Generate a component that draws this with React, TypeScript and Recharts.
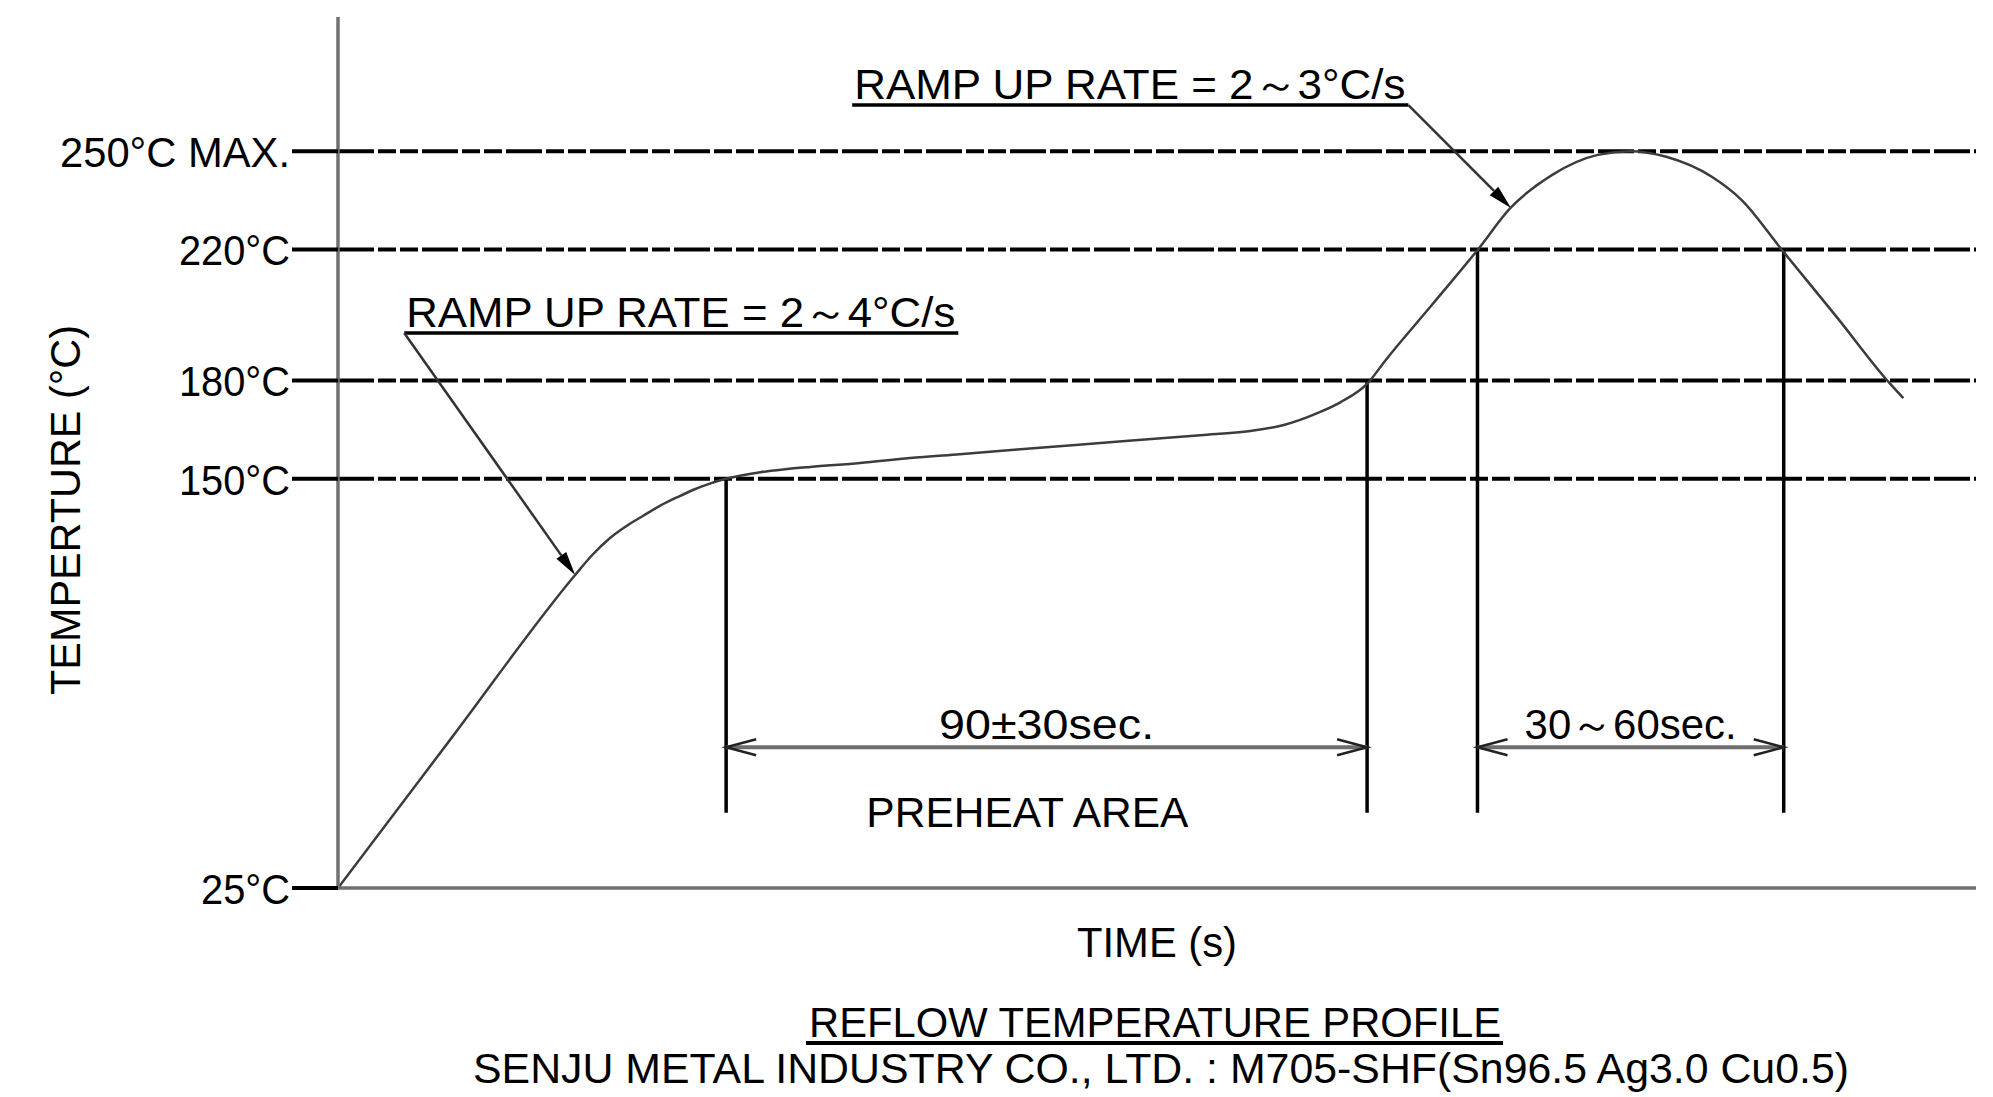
import React from 'react';
import { LineChart, Line, XAxis, YAxis, ReferenceLine, ReferenceDot } from 'recharts';

// reflow profile: time in s, temperature in °C
const timeSec = [0, 16, 33.3, 35.7, 38.2, 40.4, 42.8, 45.2, 47.6, 50.0, 52.2, 54.3, 59.3, 62.8, 66.3, 73.3, 80.3, 87.3, 104, 121.1, 128.1, 132.8, 137.6, 140.8, 144.6, 147.1, 153.5, 160.1, 164.6, 170.5, 176.9, 181.5, 186.5, 192.9, 197.1, 202.7, 210.4, 217.9, 219.8];
const tempC = [25, 71, 120.6, 126.7, 131.9, 135.4, 138.6, 141.7, 144.3, 146.7, 148.5, 149.9, 152.0, 152.9, 153.6, 154.8, 156.3, 157.5, 160.4, 163.3, 164.6, 166.4, 170.1, 173.4, 179.2, 186.2, 202.8, 220.1, 232.6, 242.8, 248.9, 250, 248.3, 242.2, 235.1, 220, 199.5, 179.1, 174.6];

const tempTicks = [25, 150, 180, 220, 250];
const tempTickLabels = ['25°C', '150°C', '180°C', '220°C', '250°C MAX.'];
const guideTemps = [150, 180, 220, 250];

// stage boundaries (vertical markers)
const stageTimes = [54.5, 144.5, 160, 203];
const stageTemps = [150, 180, 220, 220];
const stageFloor = 48;

// dimension arrows
const spanFrom = [54.5, 160];
const spanTo = [144.5, 203];
const spanLabels = ['90±30sec.', '30～60sec.'];
const spanTemp = 68;

// ramp rate callouts
const rampLabels = ['RAMP UP RATE = 2～4°C/s', 'RAMP UP RATE = 2～3°C/s'];
const rampLabelFrom = [9.3, 72.2];
const rampLabelTo = [87.1, 150.3];
const rampLabelTemp = [194.5, 264.1];
const rampTipTime = [33.3, 164.7];
const rampTipTemp = [120.6, 232.7];
const rampLeaderAtEnd = [false, true];

const areaLabel = 'PREHEAT AREA';
const areaTime = 96.8;
const areaTemp = 43.6;

const profile = timeSec.map((t, i) => ({ t, temp: tempC[i] }));

const FONT = "'Liberation Sans', Arial, sans-serif";
const tickLabelWidths = [89, 111, 111, 111, 230];
const spanLabelWidths = [215, 212];

const TempTick = (props: any) => {
  const { x, y, payload } = props;
  const i = tempTicks.indexOf(payload.value);
  return (
    <g>
      <line x1={x - 46} x2={x} y1={y} y2={y} stroke="#000" strokeWidth={4} />
      <text
        x={x - 48}
        y={y + 16}
        textAnchor="end"
        fontFamily={FONT}
        fontSize={42}
        fill="#000"
        textLength={tickLabelWidths[i]}
        lengthAdjust="spacingAndGlyphs"
      >
        {tempTickLabels[i]}
      </text>
    </g>
  );
};

const spanShape = (label: string, width: number) => (p: any) => {
  const { x1, x2, y1 } = p;
  const a = Math.min(x1, x2);
  const b = Math.max(x1, x2);
  return (
    <g>
      <line x1={a} x2={b} y1={y1} y2={y1} stroke="#6e6e6e" strokeWidth={4} />
      <polyline points={`${a + 30},${y1 - 8} ${a},${y1} ${a + 30},${y1 + 8}`} fill="none" stroke="#222" strokeWidth={2.5} />
      <polyline points={`${b - 30},${y1 - 8} ${b},${y1} ${b - 30},${y1 + 8}`} fill="none" stroke="#222" strokeWidth={2.5} />
      <text
        x={(a + b) / 2}
        y={y1 - 8}
        textAnchor="middle"
        fontFamily={FONT}
        fontSize={42}
        fill="#000"
        textLength={width}
        lengthAdjust="spacingAndGlyphs"
      >
        {label}
      </text>
    </g>
  );
};

const underlineShape = (label: string) => (p: any) => {
  const { x1, x2, y1 } = p;
  const a = Math.min(x1, x2);
  const b = Math.max(x1, x2);
  return (
    <g>
      <line x1={a} x2={b} y1={y1} y2={y1} stroke="#000" strokeWidth={3.5} />
      <text
        x={a + 2}
        y={y1 - 6}
        fontFamily={FONT}
        fontSize={42}
        fill="#000"
        textLength={b - a - 5}
        lengthAdjust="spacingAndGlyphs"
      >
        {label}
      </text>
    </g>
  );
};

const leaderShape = (p: any) => {
  const { x1, y1, x2, y2 } = p;
  const dx = x2 - x1;
  const dy = y2 - y1;
  const len = Math.hypot(dx, dy) || 1;
  const ux = dx / len;
  const uy = dy / len;
  const hl = 24;
  const hw = 6;
  const bx = x2 - ux * hl;
  const by = y2 - uy * hl;
  return (
    <g>
      <line x1={x1} y1={y1} x2={bx} y2={by} stroke="#333" strokeWidth={2.5} />
      <polygon
        points={`${x2},${y2} ${bx - uy * hw},${by + ux * hw} ${bx + uy * hw},${by - ux * hw}`}
        fill="#000"
      />
    </g>
  );
};

const App = () => (
  <div style={{ position: 'absolute', left: 0, top: 0, width: 1993, height: 1097, background: '#fff' }}>
    <LineChart width={1993} height={1097} data={profile} margin={{ top: 17, right: 17, bottom: 209, left: 0 }}>
      <XAxis type="number" dataKey="t" domain={[0, 230]} hide allowDataOverflow />
      <YAxis
        type="number"
        domain={[25, 291]}
        ticks={tempTicks}
        interval={0}
        width={338}
        tickSize={0}
        tickMargin={0}
        tickLine={false}
        axisLine={{ stroke: '#707070', strokeWidth: 3.5 }}
        tick={TempTick}
        allowDataOverflow
      />
      {guideTemps.map((v) => (
        <ReferenceLine key={`g${v}`} y={v} stroke="#000" strokeWidth={4} strokeDasharray="36 4 18 4 18 4" />
      ))}
      <ReferenceLine y={25} stroke="#707070" strokeWidth={3.5} />
      {stageTimes.map((t, i) => (
        <ReferenceLine
          key={`s${i}`}
          segment={[{ x: t, y: stageTemps[i] }, { x: t, y: stageFloor }]}
          stroke="#000"
          strokeWidth={3.5}
        />
      ))}
      {spanFrom.map((t, i) => (
        <ReferenceLine
          key={`d${i}`}
          segment={[{ x: t, y: spanTemp }, { x: spanTo[i], y: spanTemp }]}
          shape={spanShape(spanLabels[i], spanLabelWidths[i])}
        />
      ))}
      {rampLabels.map((label, i) => (
        <ReferenceLine
          key={`r${i}`}
          segment={[{ x: rampLabelFrom[i], y: rampLabelTemp[i] }, { x: rampLabelTo[i], y: rampLabelTemp[i] }]}
          shape={underlineShape(label)}
        />
      ))}
      {rampLabels.map((label, i) => (
        <ReferenceLine
          key={`l${i}`}
          segment={[
            { x: rampLeaderAtEnd[i] ? rampLabelTo[i] : rampLabelFrom[i], y: rampLabelTemp[i] },
            { x: rampTipTime[i], y: rampTipTemp[i] },
          ]}
          shape={leaderShape}
        />
      ))}
      <ReferenceDot
        x={areaTime}
        y={areaTemp}
        r={0}
        shape={(p: any) => (
          <text
            x={p.cx}
            y={p.cy}
            textAnchor="middle"
            fontFamily={FONT}
            fontSize={42}
            fill="#000"
            textLength={322}
            lengthAdjust="spacingAndGlyphs"
          >
            {areaLabel}
          </text>
        )}
      />
      <Line dataKey="temp" type="monotone" stroke="#3c3c3c" strokeWidth={2.5} dot={false} isAnimationActive={false} />
    </LineChart>
    <svg width={1993} height={1097} style={{ position: 'absolute', left: 0, top: 0, pointerEvents: 'none' }}>
      <text
        transform="translate(80,510) rotate(-90)"
        textAnchor="middle"
        fontFamily={FONT}
        fontSize={42}
        fill="#000"
        textLength={370}
        lengthAdjust="spacingAndGlyphs"
      >
        TEMPERTURE (°C)
      </text>
      <text x={1157} y={957} textAnchor="middle" fontFamily={FONT} fontSize={42} fill="#000" textLength={160} lengthAdjust="spacingAndGlyphs">
        TIME (s)
      </text>
      <text x={1155} y={1037} textAnchor="middle" fontFamily={FONT} fontSize={42} fill="#000" textLength={692} lengthAdjust="spacingAndGlyphs">
        REFLOW TEMPERATURE PROFILE
      </text>
      <line x1={806} x2={1503} y1={1043} y2={1043} stroke="#000" strokeWidth={4} />
      <text x={1161} y={1083} textAnchor="middle" fontFamily={FONT} fontSize={42} fill="#000" textLength={1376} lengthAdjust="spacingAndGlyphs">
        SENJU METAL INDUSTRY CO., LTD. : M705-SHF(Sn96.5 Ag3.0 Cu0.5)
      </text>
    </svg>
  </div>
);

export default App;
